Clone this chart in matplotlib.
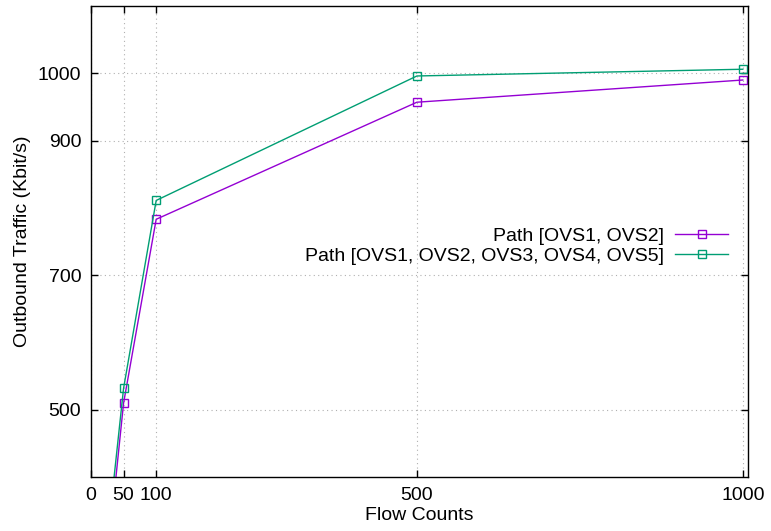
import matplotlib.pyplot as plt

flows = [10, 50, 100, 500, 1000]
path_2 = [135, 510, 783, 957, 990]
path_5 = [170, 532, 811, 996, 1006]
labels = ["Path [OVS1, OVS2]", "Path [OVS1, OVS2, OVS3, OVS4, OVS5]"]
xticks = [0, 50, 100, 500, 1000]
yticks = [500, 700, 900, 1000]

plt.rcParams['font.family'] = ['Liberation Sans', 'DejaVu Sans']
plt.rcParams['font.size'] = 14

fig = plt.figure(figsize=(7.71, 5.31), dpi=100)
ax = fig.add_axes([91 / 771, 1 - 477 / 531, 657 / 771, 471 / 531])

ax.plot(flows, path_2, color='#9400d3', marker='s', mfc='none', ms=6, mew=1, lw=1, label=labels[0])
ax.plot(flows, path_5, color='#009e73', marker='s', mfc='none', ms=6, mew=1, lw=1, label=labels[1])

ax.set_xlim(0, 1008)
ax.set_ylim(400, 1100)
ax.set_xticks(xticks)
ax.set_yticks(yticks)
ax.grid(True, color='#b0b0b0', linestyle=(0, (1, 3)), linewidth=0.8)
ax.tick_params(direction='in', top=True, right=True, length=5, width=1, pad=7)
for s in ax.spines.values():
    s.set_linewidth(1)

ax.set_xlabel("Flow Counts", labelpad=2)
ax.set_ylabel("Outbound Traffic (Kbit/s)", labelpad=5)

ax.legend(loc='center right', bbox_to_anchor=(0.993, 0.49), frameon=False,
          markerfirst=False, numpoints=1, handlelength=2.7, handletextpad=0.6,
          labelspacing=0.1, borderpad=0.3, alignment='right')

fig.savefig("out.png", dpi=100)
